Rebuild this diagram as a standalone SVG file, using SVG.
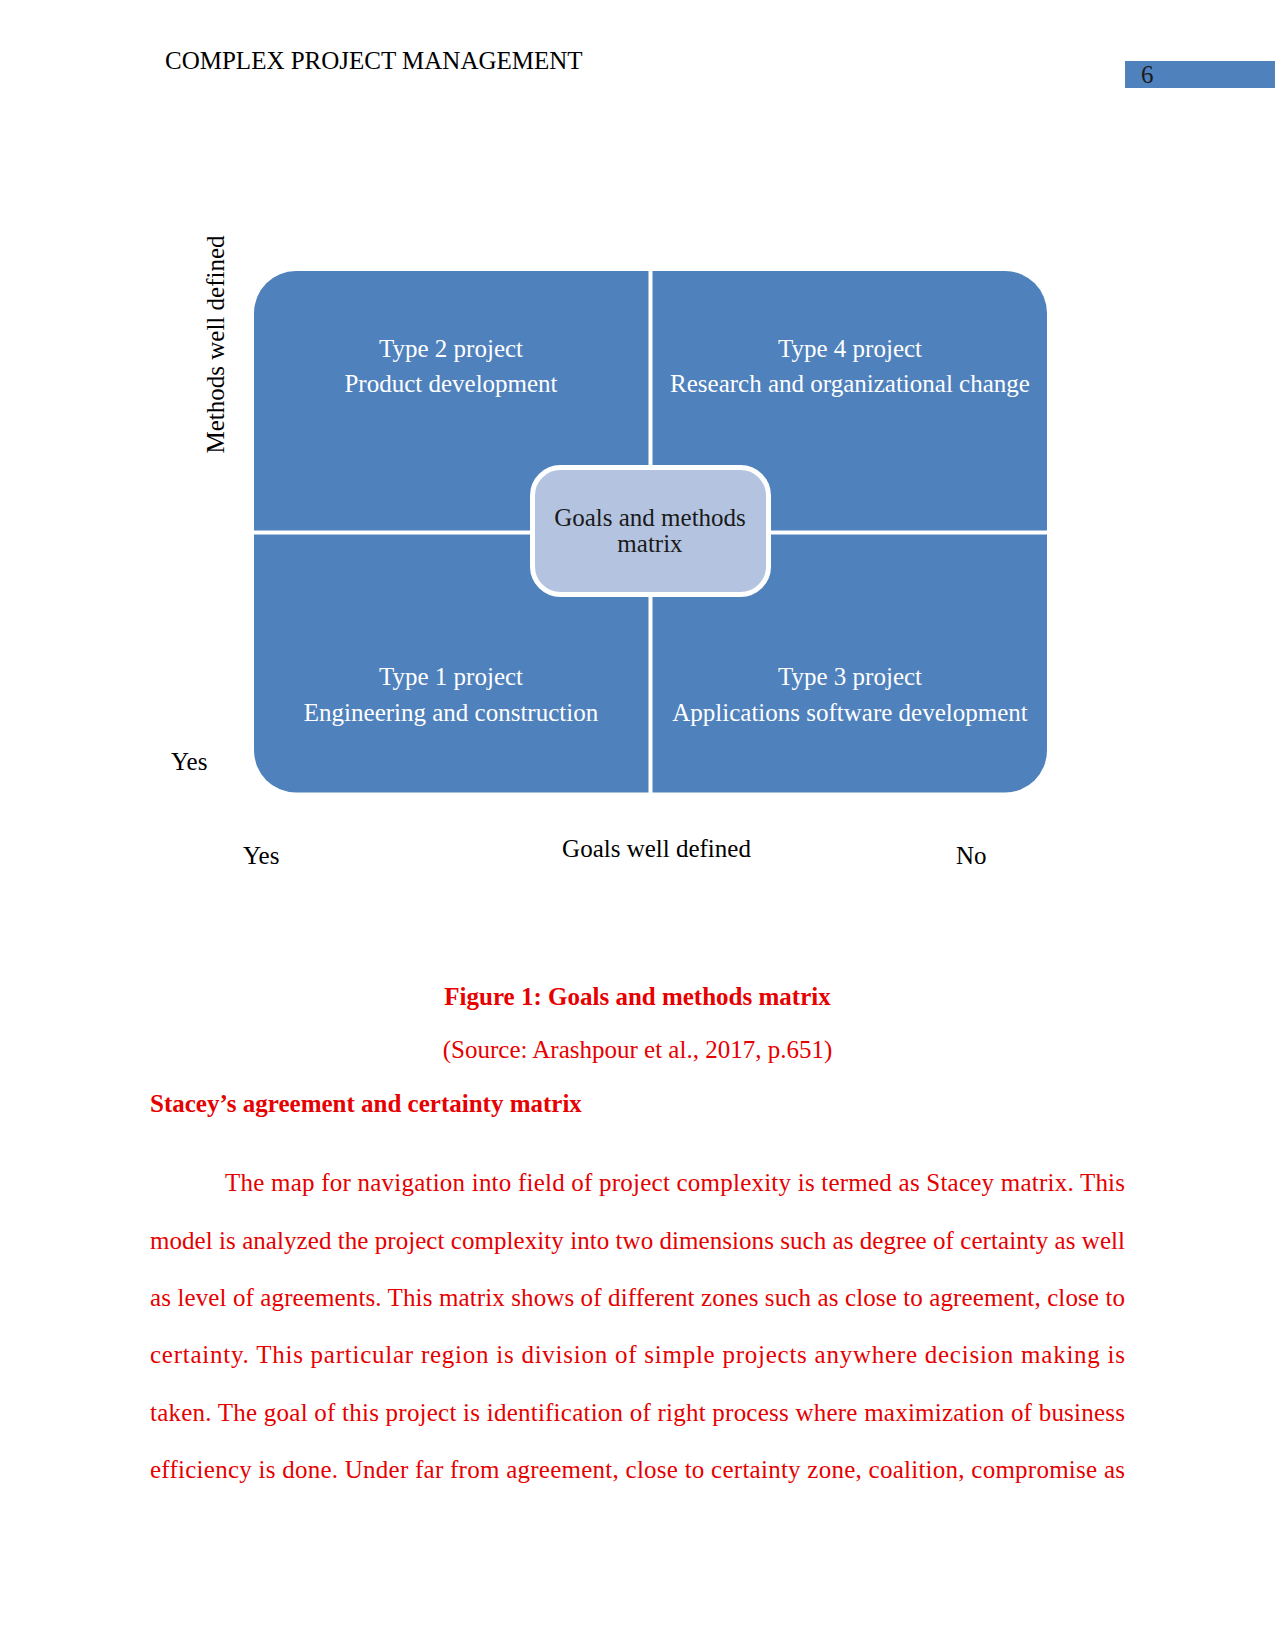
<svg xmlns="http://www.w3.org/2000/svg" width="1275" height="1650" viewBox="0 0 1275 1650">
<style>
.serif{font-family:"Liberation Serif","Times New Roman",serif;font-size:25px}
.q{fill:#4F81BD}
.qt{fill:#ffffff;text-anchor:middle}
.blk{fill:#000000}
.red{fill:#E60000}
.b{font-weight:bold}
.mid{text-anchor:middle}
</style>
<rect width="1275" height="1650" fill="#ffffff"/>
<g id="header">
<text class="serif blk" x="165" y="69">COMPLEX PROJECT MANAGEMENT</text>
<rect x="1125" y="61" width="150" height="27" fill="#4F81BD"/>
<text class="serif" x="1141" y="83" fill="#1a1a1a">6</text>
</g>
<g id="type2">
<path class="q" d="M254,313 A42,42 0 0 1 296,271 L648.5,271 L648.5,530.5 L254,530.5 Z"/>
<text class="serif qt"><tspan x="451" y="357">Type 2 project</tspan><tspan x="451" y="392">Product development</tspan></text>
</g>
<g id="type4">
<path class="q" d="M652.5,271 L1005,271 A42,42 0 0 1 1047,313 L1047,530.5 L652.5,530.5 Z"/>
<text class="serif qt"><tspan x="850" y="357">Type 4 project</tspan><tspan x="850" y="392">Research and organizational change</tspan></text>
</g>
<g id="type1">
<path class="q" d="M254,534.5 L648.5,534.5 L648.5,792.5 L296,792.5 A42,42 0 0 1 254,750.5 Z"/>
<text class="serif qt"><tspan x="451" y="685">Type 1 project</tspan><tspan x="451" y="721">Engineering and construction</tspan></text>
</g>
<g id="type3">
<path class="q" d="M652.5,534.5 L1047,534.5 L1047,750.5 A42,42 0 0 1 1005,792.5 L652.5,792.5 Z"/>
<text class="serif qt"><tspan x="850" y="685">Type 3 project</tspan><tspan x="850" y="721">Applications software development</tspan></text>
</g>
<g id="center">
<rect x="532.5" y="467.5" width="236" height="127" rx="28" fill="#B4C4E0" stroke="#ffffff" stroke-width="5"/>
<text class="serif mid" fill="#1a1a1a"><tspan x="650" y="526">Goals and methods</tspan><tspan x="650" y="552">matrix</tspan></text>
</g>
<g id="connectors"/>
<g id="axes">
<text class="serif blk mid" transform="translate(224,344.5) rotate(-90)" x="0" y="0">Methods well defined</text>
<text class="serif blk" x="171" y="770">Yes</text>
<text class="serif blk" x="243" y="864">Yes</text>
<text class="serif blk mid" x="656.5" y="857">Goals well defined</text>
<text class="serif blk" x="956" y="864">No</text>
</g>
<g id="caption">
<text class="serif red b mid" x="637.5" y="1005">Figure 1: Goals and methods matrix</text>
<text class="serif red mid" x="637.5" y="1058">(Source: Arashpour et al., 2017, p.651)</text>
<text class="serif red b" x="150" y="1112">Stacey’s agreement and certainty matrix</text>
</g>
<g id="body" class="serif red">
<text x="225" y="1191" textLength="900" lengthAdjust="spacing">The map for navigation into field of project complexity is termed as Stacey matrix. This</text>
<text x="150" y="1249" textLength="975" lengthAdjust="spacing">model is analyzed the project complexity into two dimensions such as degree of certainty as well</text>
<text x="150" y="1306" textLength="975" lengthAdjust="spacing">as level of agreements. This matrix shows of different zones such as close to agreement, close to</text>
<text x="150" y="1363" textLength="975" lengthAdjust="spacing">certainty. This particular region is division of simple projects anywhere decision making is</text>
<text x="150" y="1421" textLength="975" lengthAdjust="spacing">taken. The goal of this project is identification of right process where maximization of business</text>
<text x="150" y="1478" textLength="975" lengthAdjust="spacing">efficiency is done. Under far from agreement, close to certainty zone, coalition, compromise as</text>
</g>
</svg>
